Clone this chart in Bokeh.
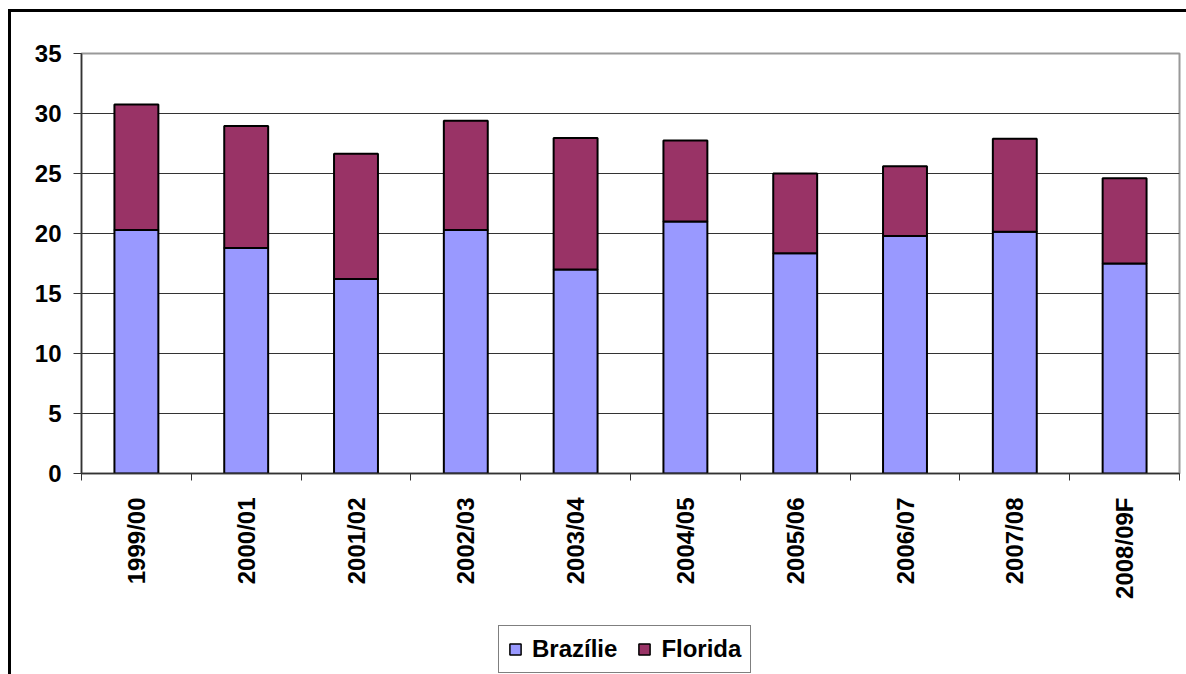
from bokeh.plotting import figure
from bokeh.models import FixedTicker, Range1d, Legend, LegendItem, ColumnDataSource
from bokeh.layouts import column
from bokeh.embed import file_html
from bokeh.resources import INLINE
import math

seasons = ["1999/00", "2000/01", "2001/02", "2002/03", "2003/04",
           "2004/05", "2005/06", "2006/07", "2007/08", "2008/09F"]
brazil = [20.3, 18.8, 16.2, 20.3, 17.0, 21.0, 18.35, 19.8, 20.15, 17.5]
total = [30.75, 28.95, 26.65, 29.4, 27.95, 27.75, 25.0, 25.6, 27.9, 24.6]
florida = [round(t - b, 2) for t, b in zip(total, brazil)]
series = ["Brazílie", "Florida"]
colors = ["#9999FF", "#993366"]
y_ticks = [0, 5, 10, 15, 20, 25, 30, 35]

n = len(seasons)
centers = [i + 0.5 for i in range(n)]
bounds = list(range(n + 1))

src = ColumnDataSource(dict(x=centers, Brazílie=brazil, Florida=florida))

FONT = "Liberation Sans"
W = 1175
H1 = 605
H2 = 57

p = figure(width=W, height=H1, output_backend="svg", toolbar_location=None,
           x_range=Range1d(0, n), y_range=Range1d(0, 35),
           min_border_left=70, min_border_right=7, min_border_top=41,
           min_border_bottom=144)

rs = p.vbar_stack(series, x="x", width=0.4, source=src, fill_color=colors,
                  line_color="black", line_width=2)

# axes
p.xaxis.ticker = FixedTicker(ticks=centers, minor_ticks=bounds)
p.xaxis.major_label_overrides = {c: s for c, s in zip(centers, seasons)}
p.xaxis.major_tick_out = 0
p.xaxis.major_tick_in = 0
p.xaxis.minor_tick_out = 7
p.xaxis.minor_tick_in = 0
p.xaxis.minor_tick_line_color = "#333333"
p.xaxis.axis_line_color = "#333333"
p.xaxis.axis_line_width = 1.5
p.xaxis.major_label_orientation = math.pi / 2
p.xaxis.major_label_standoff = 17
p.xaxis.major_label_text_font = FONT
p.xaxis.major_label_text_font_style = "bold"
p.xaxis.major_label_text_font_size = "24px"
p.xaxis.major_label_text_color = "black"

p.yaxis.ticker = FixedTicker(ticks=y_ticks)
p.yaxis.major_tick_out = 8
p.yaxis.major_tick_in = 0
p.yaxis.minor_tick_line_color = None
p.yaxis.major_tick_line_color = "#333333"
p.yaxis.axis_line_color = "#333333"
p.yaxis.axis_line_width = 1.5
p.yaxis.major_label_standoff = 12
p.yaxis.major_label_text_font = FONT
p.yaxis.major_label_text_font_style = "bold"
p.yaxis.major_label_text_font_size = "24px"
p.yaxis.major_label_text_color = "black"

p.xgrid.grid_line_color = None
p.ygrid.grid_line_color = "#333333"
p.ygrid.grid_line_width = 1.2
p.outline_line_color = "#999999"
p.outline_line_width = 2

# legend strip under the chart (its renderers are hidden, only the legend shows)
q = figure(width=W, height=H2, output_backend="svg", toolbar_location=None,
           x_range=Range1d(0, n), y_range=Range1d(0, 35),
           x_axis_location=None, y_axis_location=None,
           min_border=0)
q.grid.grid_line_color = None
q.outline_line_color = None
qrs = q.vbar_stack(series, x="x", width=0.4, source=src, fill_color=colors,
                   line_color="black", line_width=1.5)
for r in qrs:
    r.visible = False
legend = Legend(items=[LegendItem(label=s, renderers=[r]) for s, r in zip(series, qrs)],
                orientation="horizontal", location=(417, 1))
legend.label_text_font = FONT
legend.label_text_font_style = "bold"
legend.label_text_font_size = "24px"
legend.label_text_color = "black"
legend.border_line_color = "black"
legend.border_line_width = 1
legend.glyph_width = 14
legend.glyph_height = 14
legend.spacing = 20
legend.padding = 9
legend.margin = 0
legend.label_standoff = 10
legend.background_fill_alpha = 1
legend.inactive_fill_alpha = 0
q.add_layout(legend, "center")

layout = column(p, q, spacing=0,
                styles={"border-top": "3px solid black", "border-left": "3px solid black",
                        "margin-left": "8px", "margin-top": "9px"})

open("out.html", "w").write(file_html(layout, INLINE))
